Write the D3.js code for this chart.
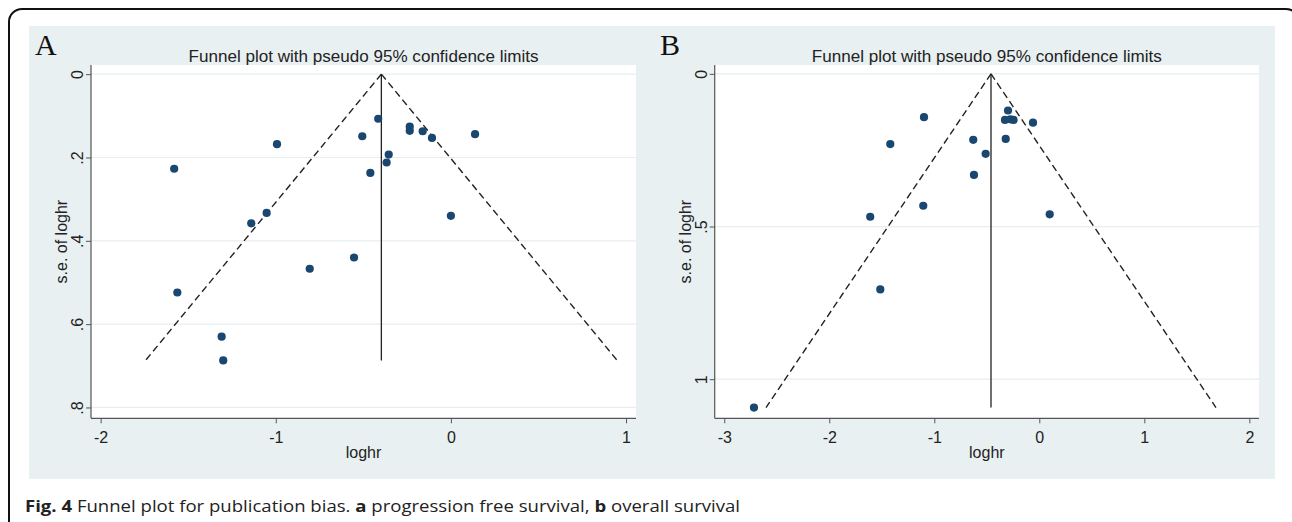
<!DOCTYPE html>
<html>
<head>
<meta charset="utf-8">
<script src="https://cdn.jsdelivr.net/npm/d3@7"></script>
<style>
  html, body { margin: 0; padding: 0; background: #ffffff; }
  svg { display: block; }
</style>
</head>
<body>
<svg id="chart" width="1292" height="522"></svg>
<script>
// ---------------- data ----------------
const panelLetters = ["A", "B"];
const plotTitle = "Funnel plot with pseudo 95% confidence limits";
const xAxisTitle = "loghr";
const yAxisTitle = "s.e. of loghr";

// Panel A: progression free survival
const loghrA = [-1.580, -0.993, -1.052, -1.140, -1.562, -1.309, -1.300, -0.806, -0.553, -0.415,
                -0.506, -0.355, -0.367, -0.460, -0.235, -0.235, -0.161, -0.108, 0.138, 0.000];
const seA    = [ 0.227,  0.168,  0.333,  0.358,  0.524,  0.630,  0.687,  0.467,  0.440,  0.107,
                 0.149,  0.193,  0.212,  0.237,  0.126,  0.136,  0.137,  0.153, 0.144, 0.340];
const pooledA = -0.397;
const xTicksA = [-2, -1, 0, 1];
const xTickLabelsA = ["-2", "-1", "0", "1"];
const yTicksA = [0, 0.2, 0.4, 0.6, 0.8];
const yTickLabelsA = ["0", ".2", ".4", ".6", ".8"];

// Panel B: overall survival
const loghrB = [-1.098, -1.419, -0.629, -0.511, -0.622, -1.105, -1.610, -1.514, -2.717, -0.298,
                -0.327, -0.275, -0.245, -0.060, -0.320, 0.099];
const seB    = [ 0.142,  0.230,  0.216,  0.262,  0.331,  0.432,  0.468,  0.706,  1.093,  0.120,
                 0.151,  0.149,  0.151,  0.160,  0.213, 0.460];
const pooledB = -0.460;
const xTicksB = [-3, -2, -1, 0, 1, 2];
const xTickLabelsB = ["-3", "-2", "-1", "0", "1", "2"];
const yTicksB = [0, 0.5, 1];
const yTickLabelsB = ["0", ".5", "1"];

const captionParts = [
  { t: "Fig. 4", b: true }, { t: " Funnel plot for publication bias. ", b: false },
  { t: "a", b: true }, { t: " progression free survival, ", b: false },
  { t: "b", b: true }, { t: " overall survival", b: false }
];

// ---------------- layout ----------------
const svg = d3.select("#chart");
const sans = "'Liberation Sans', Arial, sans-serif";
const dotColor = "#1a476f";
const bgColor = "#e9f0f2";

// outer rounded frame
svg.append("rect").attr("x", 9).attr("y", 9).attr("width", 1290).attr("height", 700)
  .attr("rx", 13).attr("fill", "none").attr("stroke", "#111").attr("stroke-width", 2);

const panels = [
  { letter: panelLetters[0], bg: [29, 645], plotX: [91, 636], xDom: [-2.055, 1.057], yDom: [-0.022, 0.826],
    loghr: loghrA, se: seA, pooled: pooledA, xTicks: xTicksA, xLabels: xTickLabelsA,
    yTicks: yTicksA, yLabels: yTickLabelsA, letterX: 35 },
  { letter: panelLetters[1], bg: [645, 1275], plotX: [714.7, 1259], xDom: [-3.091, 2.092], yDom: [-0.029, 1.128],
    loghr: loghrB, se: seB, pooled: pooledB, xTicks: xTicksB, xLabels: xTickLabelsB,
    yTicks: yTicksB, yLabels: yTickLabelsB, letterX: 660 }
];
const bgY = [26, 479];
const plotY = [65, 418.3];

panels.forEach(p => {
  const g = svg.append("g");
  g.append("rect").attr("x", p.bg[0]).attr("y", bgY[0]).attr("width", p.bg[1] - p.bg[0])
    .attr("height", bgY[1] - bgY[0]).attr("fill", bgColor);

  const x = d3.scaleLinear().domain(p.xDom).range(p.plotX);
  const y = d3.scaleLinear().domain(p.yDom).range(plotY);

  // plot region
  g.append("rect").attr("x", p.plotX[0]).attr("y", plotY[0])
    .attr("width", p.plotX[1] - p.plotX[0]).attr("height", plotY[1] - plotY[0]).attr("fill", "#ffffff");

  // gridlines
  g.selectAll(".grid").data(p.yTicks).enter().append("line")
    .attr("x1", p.plotX[0]).attr("x2", p.plotX[1])
    .attr("y1", d => y(d)).attr("y2", d => y(d))
    .attr("stroke", "#e6eef0").attr("stroke-width", 1.2);

  // axes
  const yAxis = d3.axisLeft(y).tickValues(p.yTicks).tickSize(5).tickFormat((d, i) => p.yLabels[i]);
  const yg = g.append("g").attr("transform", `translate(${p.plotX[0]},0)`).call(yAxis);
  yg.select(".domain").attr("d", `M0,${plotY[0]}V${plotY[1]}`).attr("stroke", "#555").attr("stroke-width", 1.2);
  yg.selectAll(".tick line").attr("stroke", "#555");
  yg.selectAll(".tick text").attr("font-family", sans).attr("font-size", 16).attr("fill", "#222")
    .attr("x", 0).attr("dy", 0).attr("text-anchor", "middle")
    .attr("transform", "translate(-8,0) rotate(-90)")
    .attr("y", 0);

  const xAxis = d3.axisBottom(x).tickValues(p.xTicks).tickSize(5).tickFormat((d, i) => p.xLabels[i]);
  const xg = g.append("g").attr("transform", `translate(0,${plotY[1]})`).call(xAxis);
  xg.select(".domain").attr("d", `M${p.plotX[0]},0H${p.plotX[1]}`).attr("stroke", "#555").attr("stroke-width", 1.2);
  xg.selectAll(".tick line").attr("stroke", "#555");
  xg.selectAll(".tick text").attr("font-family", sans).attr("font-size", 16).attr("fill", "#222")
    .attr("y", 25).attr("dy", 0);

  // titles
  const cx = (p.plotX[0] + p.plotX[1]) / 2;
  g.append("text").attr("x", cx).attr("y", 62).attr("text-anchor", "middle")
    .attr("font-family", sans).attr("font-size", 16.5).attr("fill", "#222")
    .attr("textLength", 350).attr("lengthAdjust", "spacingAndGlyphs").text(plotTitle);
  g.append("text").attr("x", cx).attr("y", 458).attr("text-anchor", "middle")
    .attr("font-family", sans).attr("font-size", 16).attr("fill", "#222").text(xAxisTitle);
  g.append("text").attr("transform", `translate(${p.plotX[0] - 24},${(plotY[0] + plotY[1]) / 2}) rotate(-90)`)
    .attr("text-anchor", "middle").attr("font-family", sans).attr("font-size", 16).attr("fill", "#222")
    .text(yAxisTitle);

  // panel letter
  g.append("text").attr("x", p.letterX).attr("y", 55).attr("font-family", "'Liberation Serif', 'Times New Roman', serif")
    .attr("font-size", 30).attr("fill", "#111").text(p.letter);

  // funnel lines
  const seMax = d3.max(p.se);
  const z = 1.96;
  g.append("line").attr("x1", x(p.pooled)).attr("y1", y(0)).attr("x2", x(p.pooled)).attr("y2", y(seMax))
    .attr("stroke", "#222").attr("stroke-width", 1.3);
  [-1, 1].forEach(s => {
    g.append("line").attr("x1", x(p.pooled)).attr("y1", y(0))
      .attr("x2", x(p.pooled + s * z * seMax)).attr("y2", y(seMax))
      .attr("stroke", "#222").attr("stroke-width", 1.4).attr("stroke-dasharray", "7,4");
  });

  // points
  g.selectAll(".pt").data(p.loghr.map((v, i) => [v, p.se[i]])).enter().append("circle")
    .attr("cx", d => x(d[0])).attr("cy", d => y(d[1])).attr("r", 4.1).attr("fill", dotColor);
});

// caption
const cap = svg.append("text").attr("x", 25).attr("y", 512)
  .attr("font-family", "'Open Sans', 'Noto Sans', sans-serif").attr("font-size", 15.5).attr("fill", "#222")
  .attr("textLength", 715).attr("lengthAdjust", "spacingAndGlyphs");
captionParts.forEach(c => cap.append("tspan").attr("font-weight", c.b ? "bold" : "normal").text(c.t));
</script>
</body>
</html>
